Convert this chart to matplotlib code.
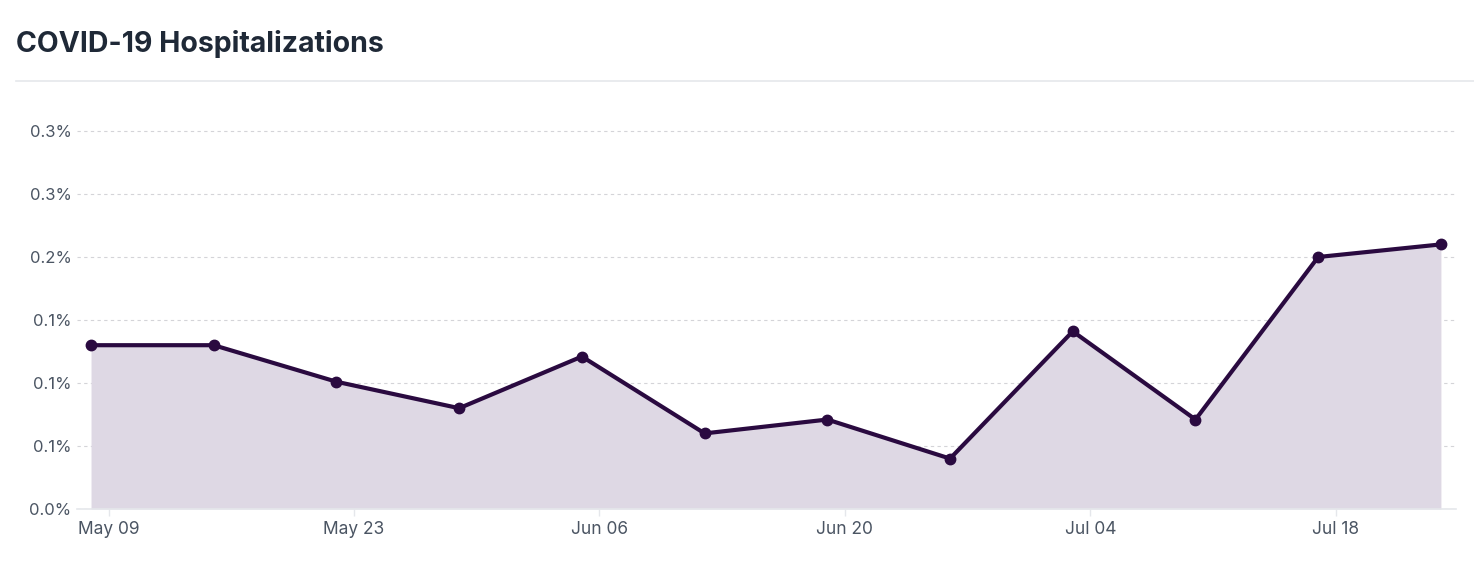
import matplotlib
matplotlib.use("Agg")
import matplotlib.pyplot as plt
import matplotlib.dates as mdates
import numpy as np
import datetime as dt

dates = ["2021-05-08", "2021-05-15", "2021-05-22", "2021-05-29", "2021-06-05", "2021-06-12",
         "2021-06-19", "2021-06-26", "2021-07-03", "2021-07-10", "2021-07-17", "2021-07-24"]
values = [0.130, 0.130, 0.101, 0.080, 0.121, 0.060, 0.071, 0.040, 0.141, 0.071, 0.200, 0.210]
ytick_vals = [0.0, 0.05, 0.10, 0.15, 0.20, 0.25, 0.30]
ytick_labels = ["0.0%", "0.1%", "0.1%", "0.1%", "0.2%", "0.3%", "0.3%"]
xtick_dates = ["2021-05-09", "2021-05-23", "2021-06-06", "2021-06-20", "2021-07-04", "2021-07-18"]
xtick_labels = ["May 09", "May 23", "Jun 06", "Jun 20", "Jul 04", "Jul 18"]
title = "COVID-19 Hospitalizations"

plt.rcParams['font.family'] = ['Inter', 'DejaVu Sans']

W, H = 1474, 566
fig = plt.figure(figsize=(W / 100, H / 100), dpi=100)
x = [dt.datetime.fromisoformat(d) for d in dates]
xn = mdates.date2num(x)

left, right, top, bottom = 77, 1456, 131 - 5, 509
ax = fig.add_axes([left / W, 1 - bottom / H, (right - left) / W, (bottom - top) / H])

line_col = "#2a0a40"
fill_col = "#ded8e4"
ax.fill_between(xn, values, 0, color=fill_col, linewidth=0, zorder=1)
ax.plot(xn, values, color=line_col, linewidth=3.0, marker="o", markersize=7.5, zorder=3,
        solid_joinstyle="round")

ax.set_xlim(xn[0] - 0.8, xn[-1] + 0.86)
ax.set_ylim(0, 0.30 + 0.05 * 5 / 63)

ax.set_yticks(ytick_vals)
ax.set_yticklabels(ytick_labels)
ax.set_xticks(mdates.date2num([dt.datetime.fromisoformat(d) for d in xtick_dates]))
ax.set_xticklabels(xtick_labels)

for s in ["top", "right", "left"]:
    ax.spines[s].set_visible(False)
ax.spines["bottom"].set_color("#e5e7eb")
ax.spines["bottom"].set_linewidth(1.2)

ax.grid(axis="y", color="#d4d4d8", linestyle=(0, (3, 3)), linewidth=0.8, zorder=0)
ax.set_axisbelow(True)
ax.tick_params(axis="y", length=0, pad=4, labelsize=12, labelcolor="#4b5563")
ax.tick_params(axis="x", length=5, width=1, color="#e5e7eb", pad=4, labelsize=12.5, labelcolor="#4b5563")

fig.text(16 / W, 1 - 44 / H, title, fontsize=20.5, fontweight="bold", color="#1f2937",
         va="center", ha="left")
fig.add_artist(plt.Line2D([16 / W, 1.0], [1 - 81 / H, 1 - 81 / H], color="#e5e7eb", linewidth=1.2))

fig.savefig("out.png", dpi=100)
